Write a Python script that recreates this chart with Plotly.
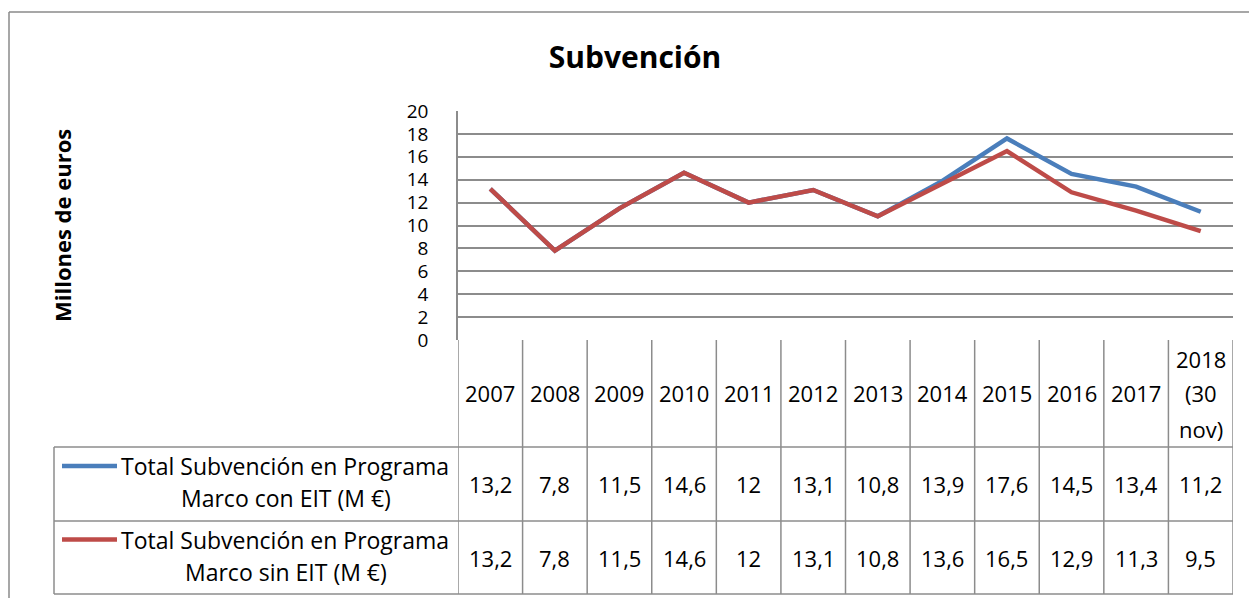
import plotly.graph_objects as go

W, H = 1249, 598

title = "Subvención"
y_title = "Millones de euros"
categories = ["2007", "2008", "2009", "2010", "2011", "2012", "2013", "2014",
              "2015", "2016", "2017", "2018<br>(30<br>nov)"]
series_names = [["Total Subvención en Programa", "Marco con EIT (M €)"],
                ["Total Subvención en Programa", "Marco sin EIT (M €)"]]
con_eit = [13.2, 7.8, 11.5, 14.6, 12, 13.1, 10.8, 13.9, 17.6, 14.5, 13.4, 11.2]
sin_eit = [13.2, 7.8, 11.5, 14.6, 12, 13.1, 10.8, 13.6, 16.5, 12.9, 11.3, 9.5]
y_ticks = [0, 2, 4, 6, 8, 10, 12, 14, 16, 18, 20]
colors = ["#4A7EBB", "#BE4B48"]

FONT = "Open Sans"
GRID = "#8C8C8C"
FS = 22

def px(x):
    return x / W

def py(y):
    return 1 - y / H

def fmt(v):
    s = ("%g" % v)
    return s.replace(".", ",")

# layout geometry (pixels)
PL, PR, PT, PB = 458, 1233, 111, 340
ROW1, ROW2, ROWEND = 447, 521, 594
LEG_L = 54

n = len(categories)
xs = list(range(n))

fig = go.Figure()
for vals, name, c in zip([con_eit, sin_eit], series_names, colors):
    fig.add_trace(go.Scatter(x=xs, y=vals, mode="lines", name=" ".join(name),
                             line=dict(color=c, width=4.5), hoverinfo="skip",
                             showlegend=False))

shapes = []
ann = []

# outer chart border (left and top)
shapes.append(dict(type="line", xref="paper", yref="paper", x0=px(9), x1=px(W + 5),
                   y0=py(12), y1=py(12), line=dict(color="#8A8A8A", width=1.5)))
shapes.append(dict(type="line", xref="paper", yref="paper", x0=px(9), x1=px(9),
                   y0=py(12), y1=py(H + 5), line=dict(color="#8A8A8A", width=1.5)))

# table vertical lines
for i in range(n + 1):
    shapes.append(dict(type="line", xref="x", yref="paper", x0=i - 0.5, x1=i - 0.5,
                       y0=py(PB), y1=py(ROWEND), line=dict(color=GRID, width=1.5)))
shapes.append(dict(type="line", xref="paper", yref="paper", x0=px(LEG_L), x1=px(LEG_L),
                   y0=py(ROW1), y1=py(ROWEND), line=dict(color=GRID, width=1.5)))
for yy in [ROW1, ROW2, ROWEND]:
    shapes.append(dict(type="line", xref="paper", yref="paper", x0=px(LEG_L), x1=px(PR),
                       y0=py(yy), y1=py(yy), line=dict(color=GRID, width=1.5)))

# header row labels
header_mid = (PB + ROW1) / 2
for i, lab in enumerate(categories):
    lines = lab.split("<br>")
    k = len(lines)
    for j, ln in enumerate(lines):
        off = (j - (k - 1) / 2) * 35
        ann.append(dict(x=i, y=py(header_mid + off), xref="x", yref="paper",
                        text=ln, showarrow=False, xanchor="center", yanchor="middle",
                        font=dict(family=FONT, size=FS, color="#000")))

# value rows
rows = [(con_eit, (ROW1 + ROW2) / 2), (sin_eit, (ROW2 + ROWEND) / 2)]
for (vals, ymid), name, c in zip(rows, series_names, colors):
    for i, v in enumerate(vals):
        ann.append(dict(x=i, y=py(ymid), xref="x", yref="paper", text=fmt(v),
                        showarrow=False, xanchor="center", yanchor="middle",
                        font=dict(family=FONT, size=FS, color="#000")))
    # legend key
    shapes.append(dict(type="line", xref="paper", yref="paper", x0=px(62), x1=px(117),
                       y0=py(ymid - 18), y1=py(ymid - 18),
                       line=dict(color=c, width=4.5)))
    ann.append(dict(x=px(119), y=py(ymid - 18), xref="paper", yref="paper",
                    text=name[0], showarrow=False, xanchor="left", yanchor="middle",
                    font=dict(family=FONT, size=23, color="#000")))
    ann.append(dict(x=px(286), y=py(ymid + 14), xref="paper", yref="paper",
                    text=name[1], showarrow=False, xanchor="center", yanchor="middle",
                    font=dict(family=FONT, size=23, color="#000")))

# y-axis title
ann.append(dict(x=px(62), y=py(226), xref="paper", yref="paper", text="<b>%s</b>" % y_title,
                textangle=-90, showarrow=False, xanchor="center", yanchor="middle",
                font=dict(family=FONT, size=22, color="#000")))

fig.update_layout(
    width=W, height=H,
    margin=dict(l=0, r=0, t=0, b=0, autoexpand=False),
    paper_bgcolor="white", plot_bgcolor="white",
    title=dict(text="<b>%s</b>" % title, x=px(635), xanchor="center",
               y=py(57), yanchor="middle",
               font=dict(family=FONT, size=30, color="#000")),
    xaxis=dict(domain=[px(PL), px(PR)], range=[-0.5, n - 0.5], showgrid=False,
               showticklabels=False, zeroline=False, showline=False, fixedrange=True),
    yaxis=dict(domain=[py(PB), py(PT)], range=[0, 20], tickvals=y_ticks,
               showgrid=True, gridcolor=GRID, gridwidth=1.5, zeroline=False,
               showline=True, linecolor=GRID, linewidth=1.5,
               ticks="", ticklabelstandoff=24, automargin=False,
               tickfont=dict(family=FONT, size=19, color="#000"), fixedrange=True),
    shapes=shapes, annotations=ann,
    showlegend=False,
)

fig.write_html("out.html", config={"displayModeBar": False},
               post_script="document.body.style.margin='0';document.body.style.overflow='hidden';")
